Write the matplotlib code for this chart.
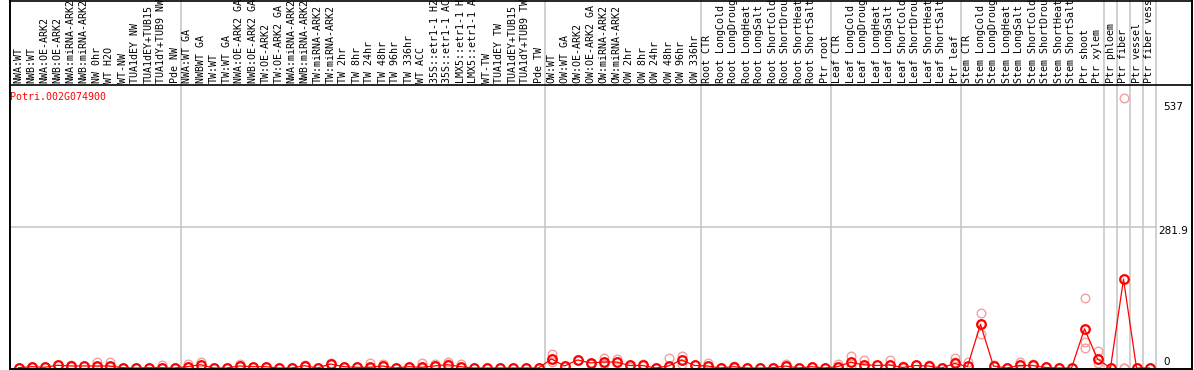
import matplotlib
matplotlib.use("Agg")
import matplotlib.pyplot as plt
from matplotlib.lines import Line2D
from matplotlib.transforms import blended_transform_factory

W, H = 1194, 370

gene = "Potri.002G074900"

labels = [
    "NWA:WT", "NWB:WT", "NWA:OE-ARK2", "NWB:OE-ARK2", "NWA:miRNA-ARK2", "NWB:miRNA-ARK2",
    "NW 0hr", "WT H2O", "WT-NW", "TUA1dEY NW", "TUA1dEY+TUB15", "TUA1dY+TUB9 NW", "Pde NW",
    "NWA:WT GA", "NWBWT GA", "TW:WT", "TW:WT GA", "NWA:OE-ARK2 GA", "NWB:OE-ARK2 GA",
    "TW:OE-ARK2", "TW:OE-ARK2 GA", "NWA:miRNA-ARK2", "NWB:miRNA-ARK2", "TW:miRNA-ARK2",
    "TW:miRNA-ARK2", "TW 2hr", "TW 8hr", "TW 24hr", "TW 48hr", "TW 96hr", "TW 336hr", "WT ACC",
    "35S::etr1-1 H2O", "35S::etr1-1 ACC", "LMX5::etr1-1 H2O", "LMX5::etr1-1 ACC", "WT-TW",
    "TUA1dEY TW", "TUA1dEY+TUB15", "TUA1dY+TUB9 TW", "Pde TW",
    "OW:WT", "OW:WT GA", "OW:OE-ARK2", "OW:OE-ARK2 GA", "OW:miRNA-ARK2", "OW:miRNA-ARK2",
    "OW 2hr", "OW 8hr", "OW 24hr", "OW 48hr", "OW 96hr", "OW 336hr",
    "Root CTR", "Root LongCold", "Root LongDrought", "Root LongHeat", "Root LongSalt",
    "Root ShortCold", "Root ShortDrought", "Root ShortHeat", "Root ShortSalt", "Ptr root",
    "Leaf CTR", "Leaf LongCold", "Leaf LongDrought", "Leaf LongHeat", "Leaf LongSalt",
    "Leaf ShortCold", "Leaf ShortDrought", "Leaf ShortHeat", "Leaf ShortSalt", "Ptr leaf",
    "Stem CTR", "Stem LongCold", "Stem LongDrought", "Stem LongHeat", "Stem LongSalt",
    "Stem ShortCold", "Stem ShortDrought", "Stem ShortHeat", "Stem ShortSalt", "Ptr shoot",
    "Ptr xylem", "Ptr phloem", "Ptr fiber", "Ptr vessel", "Ptr fiber vessel",
]

means = [
    0.6, 2.6, 1.4, 5.4, 4, 4, 4, 4, 0.6, 0, 0.6, 0.6, 0,
    2.6, 6.6, 0, 0, 4, 2.6, 2.6, 0, 0, 4.6, 0, 8, 2.6, 1.4, 1.4, 4, 0, 2.6, 1.4, 4, 6.6, 2.6,
    0, 0, 0, 0, 0, 0,
    18, 4, 16, 10, 12, 12, 5, 5, 0, 4, 16, 5,
    4, 0, 2.6, 0, 0, 0.6, 4, 0, 2.6, 0,
    2.6, 11.4, 6.6, 5, 6, 1, 5, 4, 0, 9,
    3, 87, 4, 0, 5, 5, 1, 0, 0, 78, 18, 0, 177, 0, 0,
]

replicates = [
    [0.6], [2.6], [1.4], [5.4, 6], [4, 6], [4], [12, 2], [12, 2], [0.6], [0], [0.6], [5, 0], [0],
    [7, 2], [12, 5], [0], [0], [7, 3], [2.6], [2.6], [0], [0], [4.6, 6], [0], [8, 9], [2.6], [1.4],
    [10, 0], [7, 4], [0], [2.6], [10, 0], [7, 4], [11, 7], [8, 2], [0], [0], [0], [0], [0], [0],
    [28, 11, 18], [4], [16], [7, 10], [19, 7, 12], [17, 12], [2, 5], [7, 5], [0], [20, 1], [23, 8, 16], [5],
    [10, 4], [0], [4, 2], [0], [0], [0.6], [7, 4], [0], [2.6], [0],
    [7, 2], [24, 4, 11], [15, 1, 6], [5], [15, 6], [3, 1], [5, 6], [6, 4], [0], [19, 12, 9],
    [12, 3], [110, 67, 87], [4, 5], [0], [12, 5], [7, 5], [1], [0], [0], [139, 52, 39], [34, 10, 18],
    [0], [537, 0, 0], [0], [0],
]

group_bounds = [12.5, 40.5, 52.5, 62.5, 72.5, 83.5, 84.5, 85.5, 86.5, 87.5]

ymax_label = 537
ymid_label = 281.9

fig = plt.figure(figsize=(W / 100, H / 100), dpi=100)
fig.patch.set_facecolor("white")


def fx(px):
    return px / W


def fy(py):
    return 1 - py / H


left_px, right_px, top_px, bot_px = 10, 1156, 85, 368
ax = fig.add_axes([fx(left_px), fy(bot_px), fx(right_px - left_px), (bot_px - top_px) / H])
xmin = -8.5 / 13
ax.set_xlim(xmin, xmin + (right_px - left_px) / 13)
ax.set_ylim(0, ymax_label * 1.05)
ax.axis("off")

mono = "DejaVu Sans Mono"
blend = blended_transform_factory(ax.transData, fig.transFigure)

# grey vertical group separators (through label band and plot)
for b in group_bounds:
    ax.add_artist(Line2D([b, b], [fy(0), fy(bot_px)], transform=blend,
                         color="#c4c4c4", lw=1.1, clip_on=False))

# grey mid line
ax.plot([xmin, group_bounds[-1]], [ymid_label, ymid_label], color="#c4c4c4", lw=1.1, clip_on=False)


def fline(x0, y0, x1, y1, **kw):
    fig.add_artist(Line2D([fx(x0), fx(x1)], [fy(y0), fy(y1)], transform=fig.transFigure, **kw))


# frame
fline(10, 0.5, 1192, 0.5, color="black", lw=1.2)
fline(10, 85, 1192, 85, color="black", lw=1.2)
fline(10, 368.5, 1192, 368.5, color="black", lw=1.4)
fline(10, 0, 10, 370, color="black", lw=1.4)
fline(1192, 0, 1192, 370, color="black", lw=1.4)

# column labels (cut by top edge like the reference)
for i, lab in enumerate(labels):
    ax.text(i, fy(83), lab, transform=blend, rotation=90, ha="center", va="bottom",
            family=mono, fontsize=7.2, color="black", clip_on=False)

# replicates
for i, reps in enumerate(replicates):
    ax.plot([i] * len(reps), reps, linestyle="none", marker="o", markersize=6.2,
            markerfacecolor="none", markeredgecolor="#f0a0a0", markeredgewidth=1.0,
            clip_on=False, zorder=2)

# mean line
xs = list(range(len(means)))
ax.plot(xs, means, color="#ff0000", lw=0.9, clip_on=False, zorder=3)
ax.plot(xs, means, linestyle="none", marker="o", markersize=6.2, markerfacecolor="none",
        markeredgecolor="#ff0000", markeredgewidth=1.6, clip_on=False, zorder=4)

# gene name
fig.text(fx(10), fy(97), gene, color="#ff0000", family=mono, fontsize=7.2, ha="left", va="center")

# right-side value labels
fig.text(fx(1163), fy(107), str(ymax_label), ha="left", va="center", fontsize=7.5, family="DejaVu Sans")
fig.text(fx(1158), fy(231), f"{ymid_label}", ha="left", va="center", fontsize=7.5, family="DejaVu Sans")
fig.text(fx(1163), fy(362), "0", ha="left", va="center", fontsize=7.5, family="DejaVu Sans")

fig.savefig("out.png", dpi=100, facecolor="white")
